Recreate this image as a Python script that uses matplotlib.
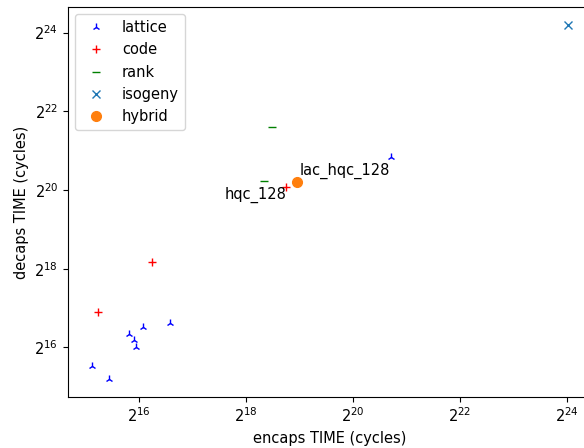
import matplotlib
matplotlib.use("Agg")
import matplotlib.pyplot as plt
import numpy as np

# log2 of cycles
lattice_enc = [15.12, 15.44, 15.81, 15.91, 15.94, 16.07, 16.58, 20.71]
lattice_dec = [15.52, 15.19, 16.33, 16.18, 16.00, 16.51, 16.63, 20.84]
code_enc = [15.23, 16.24, 18.75]
code_dec = [16.89, 18.18, 20.08]
rank_enc = [18.49, 18.34]
rank_dec = [21.59, 20.23]
isogeny_enc = [24.02]
isogeny_dec = [24.20]
hybrid_enc = [18.95]
hybrid_dec = [20.20]

plt.rcParams['font.size'] = 10.5

fig = plt.figure(figsize=(5.84, 4.48), dpi=100)
ax = fig.add_axes([68/584, 51/448, 524/584, 390/448])

p2 = lambda v: 2.0 ** np.array(v)
ax.plot(p2(lattice_enc), p2(lattice_dec), '2', color='b', linestyle='none', label='lattice')
ax.plot(p2(code_enc), p2(code_dec), '+', color='r', linestyle='none', label='code')
ax.plot(p2(rank_enc), p2(rank_dec), '_', color='g', linestyle='none', label='rank')
ax.plot(p2(isogeny_enc), p2(isogeny_dec), 'x', color='C0', linestyle='none', label='isogeny')
ax.plot(p2(hybrid_enc), p2(hybrid_dec), 'o', color='C1', linestyle='none', markersize=7, label='hybrid')

ax.set_xscale('log', base=2)
ax.set_yscale('log', base=2)
ax.set_xticks([2**16, 2**18, 2**20, 2**22, 2**24])
ax.set_yticks([2**16, 2**18, 2**20, 2**22, 2**24])

ax.annotate('hqc_128', (2**code_enc[2], 2**code_dec[2]), ha='right', va='top')
ax.annotate('lac_hqc_128', (2**hybrid_enc[0], 2**hybrid_dec[0]),
            xytext=(2, 2), textcoords='offset points', ha='left', va='bottom')

ax.set_xlabel('encaps TIME (cycles)')
ax.set_ylabel('decaps TIME (cycles)')
ax.legend(loc='upper left')

fig.savefig('out.png', dpi=100)
